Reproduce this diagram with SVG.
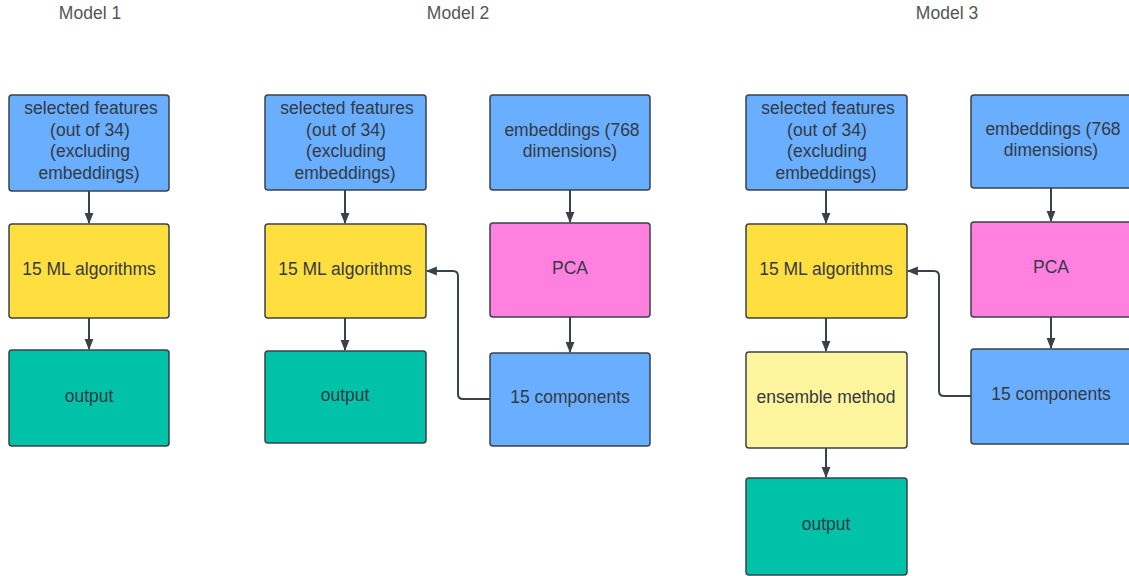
<svg xmlns="http://www.w3.org/2000/svg" width="1129" height="576" viewBox="0 0 1129 576">
<style>
.b{stroke:#3a4149;stroke-width:1.5}
.blue{fill:#6aaeff}.yel{fill:#ffdf3f}.pink{fill:#ff80df}.teal{fill:#00c2a8}.lyel{fill:#fff59f}
text{font-family:"Liberation Sans",Arial,sans-serif;font-size:17.5px;fill:#333a44;text-anchor:middle}
.t{font-size:17.5px;fill:#555}
.c{stroke:#3a4149;stroke-width:2;fill:none;marker-end:url(#a)}
</style>
<defs><marker id="a" viewBox="0 0 10 10" refX="9" refY="5" markerWidth="5.5" markerHeight="5.5" orient="auto" markerUnits="strokeWidth"><path d="M0,1 L10,5 L0,9 Z" fill="#3a4149"/></marker></defs>
<rect width="1129" height="576" fill="#fff"/>
<text class="t" x="90" y="19">Model 1</text>
<text class="t" x="458" y="19">Model 2</text>
<text class="t" x="947" y="19">Model 3</text>

<g id="m1-features"><rect class="b blue" x="9" y="95" width="160" height="96" rx="3"/><text x="91" y="114">selected features</text><text x="90" y="135.5">(out of 34)</text><text x="90" y="157">(excluding</text><text x="89" y="178.5">embeddings)</text></g>
<g id="m1-ml"><rect class="b yel" x="9" y="224" width="160" height="94" rx="3"/><text x="89" y="275">15 ML algorithms</text></g>
<g id="m1-output"><rect class="b teal" x="9" y="350" width="160" height="96" rx="3"/><text x="89" y="402">output</text></g>

<g id="m2-features"><rect class="b blue" x="265" y="95" width="161" height="95" rx="3"/><text x="347" y="114">selected features</text><text x="346" y="135.5">(out of 34)</text><text x="346" y="157">(excluding</text><text x="345" y="178.5">embeddings)</text></g>
<g id="m2-emb"><rect class="b blue" x="490" y="95" width="160" height="95" rx="3"/><text x="572" y="135.5">embeddings (768</text><text x="570" y="157">dimensions)</text></g>
<g id="m2-ml"><rect class="b yel" x="265" y="224" width="161" height="94" rx="3"/><text x="345" y="275">15 ML algorithms</text></g>
<g id="m2-pca"><rect class="b pink" x="490" y="223" width="160" height="94" rx="3"/><text x="570" y="274">PCA</text></g>
<g id="m2-output"><rect class="b teal" x="265" y="351" width="161" height="92" rx="3"/><text x="345" y="401">output</text></g>
<g id="m2-comp"><rect class="b blue" x="490" y="353" width="160" height="93" rx="3"/><text x="570" y="403">15 components</text></g>

<g id="m3-features"><rect class="b blue" x="746" y="95" width="161" height="95" rx="3"/><text x="828" y="114">selected features</text><text x="827" y="135.5">(out of 34)</text><text x="827" y="157">(excluding</text><text x="826" y="178.5">embeddings)</text></g>
<g id="m3-emb"><rect class="b blue" x="971" y="95" width="162" height="93" rx="3"/><text x="1053" y="135">embeddings (768</text><text x="1051" y="156">dimensions)</text></g>
<g id="m3-ml"><rect class="b yel" x="746" y="224" width="161" height="94" rx="3"/><text x="826" y="275">15 ML algorithms</text></g>
<g id="m3-pca"><rect class="b pink" x="971" y="222" width="162" height="95" rx="3"/><text x="1051" y="273">PCA</text></g>
<g id="m3-ens"><rect class="b lyel" x="746" y="352" width="161" height="96" rx="3"/><text x="826" y="403">ensemble method</text></g>
<g id="m3-comp"><rect class="b blue" x="971" y="349" width="162" height="95" rx="3"/><text x="1051" y="400">15 components</text></g>
<g id="m3-output"><rect class="b teal" x="746" y="478" width="161" height="97" rx="3"/><text x="826" y="530">output</text></g>

<g id="connectors">
<path class="c" d="M89,191 V223"/>
<path class="c" d="M89,318 V349"/>
<path class="c" d="M345,190 V223"/>
<path class="c" d="M345,318 V350"/>
<path class="c" d="M570,190 V222"/>
<path class="c" d="M570,317 V352"/>
<path class="c" d="M490,399 H463 Q458,399 458,394 V276 Q458,271 453,271 H427"/>
<path class="c" d="M826,190 V223"/>
<path class="c" d="M826,318 V351"/>
<path class="c" d="M826,448 V477"/>
<path class="c" d="M1051,188 V221"/>
<path class="c" d="M1051,317 V348"/>
<path class="c" d="M971,396 H944 Q939,396 939,391 V276 Q939,271 934,271 H908"/>
</g>
</svg>
